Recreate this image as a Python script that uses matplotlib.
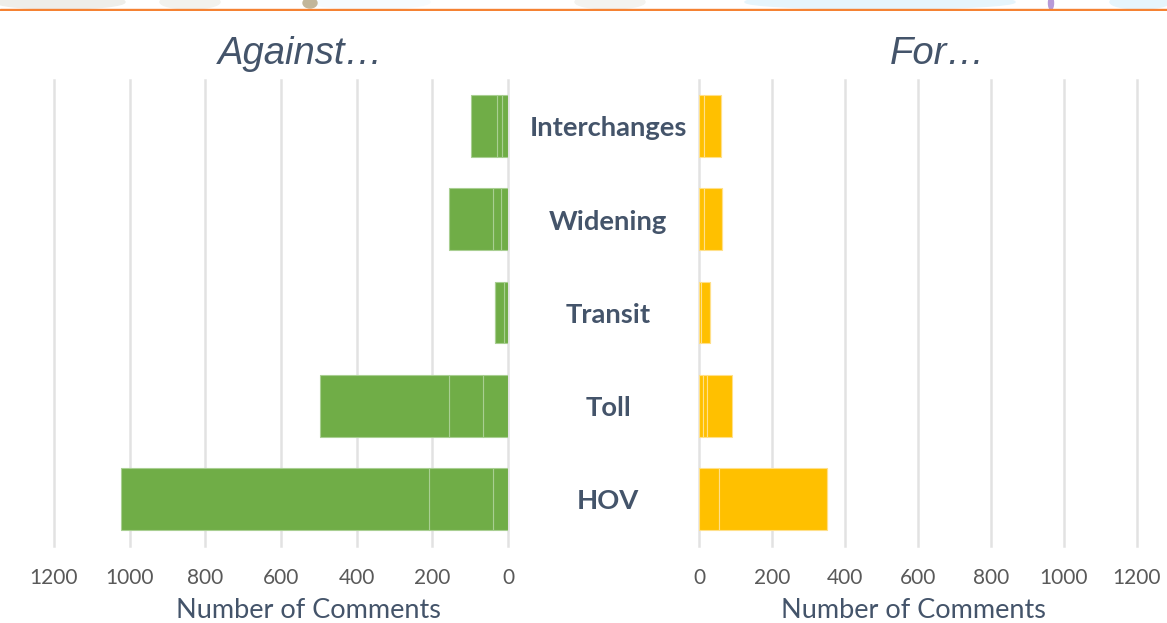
import matplotlib
matplotlib.use('Agg')
import matplotlib.pyplot as plt
from matplotlib.patches import Ellipse
from matplotlib.transforms import blended_transform_factory

# dados
categorias = ['HOV', 'Toll', 'Transit', 'Widening', 'Interchanges']
contra_1 = [40, 66, 10, 18, 16]
contra_2 = [169, 90, 24, 21, 12]
contra_3 = [815, 341, 0, 117, 70]
favor_1 = [56, 12, 5, 13, 15]
favor_2 = [295, 9, 26, 51, 46]
favor_3 = [0, 69, 0, 0, 0]
ticks = [0, 200, 400, 600, 800, 1000, 1200]

L, H = 1167, 623
VERDE = '#70AD47'
AMARELO = '#FFC000'
TEXTO = '#44546A'
CINZA = '#595959'
GRADE = '#E2E2E2'

plt.rcParams['font.family'] = ['Lato', 'DejaVu Sans']

fig = plt.figure(figsize=(L/100, H/100), dpi=100)


def caixa(x0, y0, x1, y1):
    # converte pixels da imagem (y para baixo) em fracao da figura
    return [x0/L, 1 - y1/H, (x1 - x0)/L, (y1 - y0)/H]


def empilha(ax, series, cor, borda):
    y = list(range(len(categorias)))
    base = [0]*len(categorias)
    for s in series:
        ax.barh(y, s, left=base, height=0.665, color=cor,
                edgecolor=borda, linewidth=0.8, zorder=3)
        base = [a + b for a, b in zip(base, s)]


def painel(pos, series, cor, borda, titulo, x_titulo, x_rotulo):
    ax = fig.add_axes(pos)
    empilha(ax, series, cor, borda)
    ax.set_xlim(0, 1200)
    ax.set_ylim(-0.5, 4.5)
    ax.set_xticks(ticks)
    ax.set_yticks([])
    ax.grid(axis='x', color=GRADE, linewidth=1.8, zorder=0)
    for linha in ax.get_xgridlines():
        linha.set_clip_on(False)  # a ultima linha nao pode ser cortada
    ax.tick_params(axis='x', length=0, pad=16.5, labelsize=15, labelcolor=CINZA)
    for lado in ax.spines.values():
        lado.set_visible(False)
    fig.text(x_rotulo/L, 1 - 611/H, 'Number of Comments', fontsize=19.5,
             color=TEXTO, ha='center', va='center')
    fig.text(x_titulo/L, 1 - 54/H, titulo, fontsize=27.5, style='italic',
             family='Liberation Sans', color=TEXTO, ha='center', va='center')
    return ax


ax_esq = painel(caixa(54, 79.5, 508, 545.5), [contra_1, contra_2, contra_3],
                VERDE, '#A9CF92', 'Against…', 301, 308)
ax_esq.invert_xaxis()
ax_dir = painel(caixa(699, 79.5, 1137, 545.5), [favor_1, favor_2, favor_3],
                AMARELO, '#FFE08A', 'For…', 938, 913)

# nomes das categorias entre os dois paineis
trans = blended_transform_factory(fig.transFigure, ax_esq.transData)
for i, nome in enumerate(categorias):
    ax_esq.text(608/L, i - 0.025, nome, transform=trans, ha='center', va='center',
                fontsize=19.7, fontweight='bold', color=TEXTO)

# faixa do mapa no topo, so uma sugestao do fundo
topo = fig.add_axes(caixa(0, 0, L, 11))
topo.set_xlim(0, L)
topo.set_ylim(11, 0)
topo.axis('off')
topo.axhspan(9, 11, color='#F58233', zorder=5)
for x, larg, cor in [(370, 120, '#F6FBFE'), (880, 270, '#E6F5FC'),
                     (1140, 60, '#E6F5FC'), (60, 130, '#EEEEEA'),
                     (190, 60, '#F2F2EE'), (610, 70, '#F3F3F0')]:
    topo.add_patch(Ellipse((x, 2), larg, 14, color=cor, zorder=1))
topo.add_patch(Ellipse((1051, 3), 5, 13, color='#B79AD8', zorder=2))
topo.add_patch(Ellipse((310, 3), 14, 10, color='#C2B69A', zorder=2))

fig.savefig('out.png', dpi=100)
